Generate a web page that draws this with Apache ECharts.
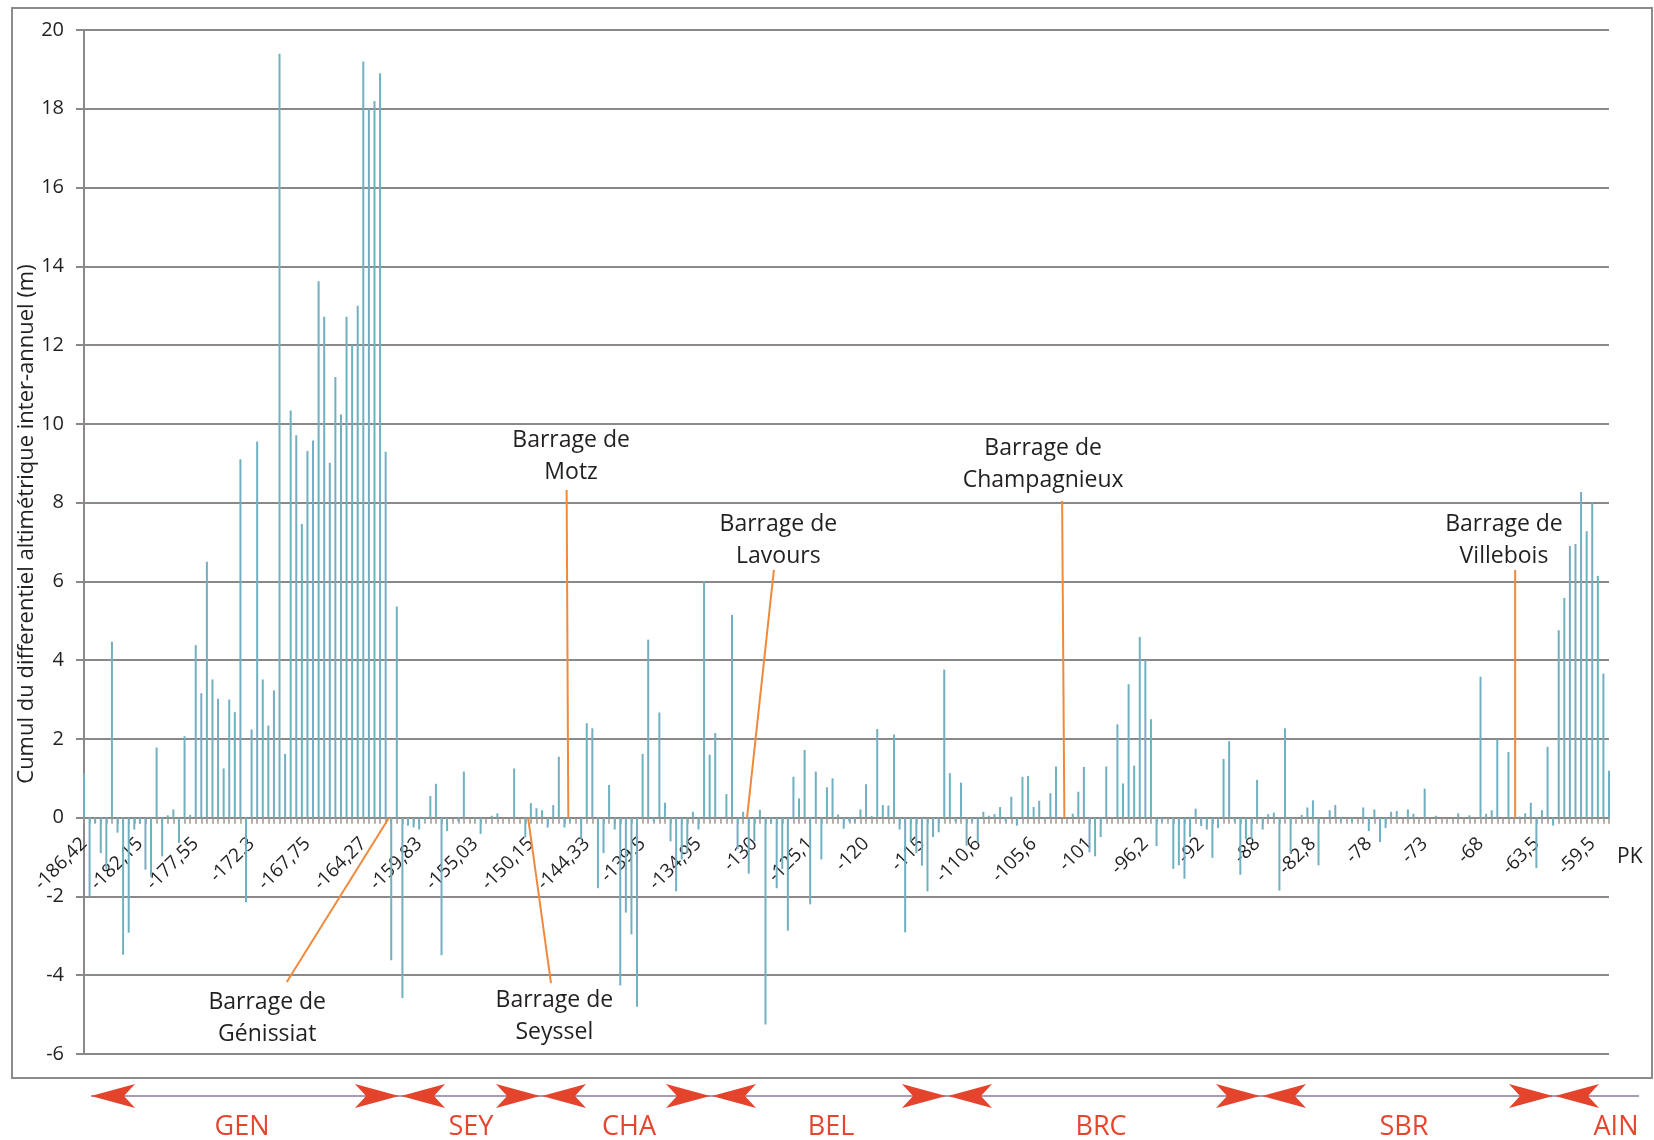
<!DOCTYPE html>
<html lang="fr">
<head>
<meta charset="UTF-8">
<title>Cumul du differentiel altimétrique inter-annuel</title>
<style>
  *{margin:0;padding:0;}
  body{background:#fff;}
  #chart{width:1654px;height:1140px;}
</style>
</head>
<body>
<div id="chart"></div>
<script src="https://cdn.jsdelivr.net/npm/echarts@6/dist/echarts.min.js"></script>
<script>
// PK labels, one every 10 profiles
var pkLabels = ['-186,42','-182,15','-177,55','-172,3','-167,75','-164,27','-159,83','-155,03','-150,15',
	'-144,33','-139,5','-134,95','-130','-125,1','-120','-115','-110,6','-105,6','-101','-96,2','-92',
	'-88','-82,8','-78','-73','-68','-63,5','-59,5'];

// cumul du differentiel (m), one value per profile, upstream -> downstream
var cumul = [
	1.12,-2.0,-0.13,-0.9,-1.3,4.47,-0.38,-3.48,-2.92,-0.3,
	-0.15,-1.32,-1.5,1.78,-0.98,0.06,0.21,-0.64,2.07,0.07,
	4.38,3.16,6.5,3.51,3.02,1.25,3.0,2.68,9.1,-2.15,
	2.24,9.55,3.51,2.34,3.23,19.4,1.62,10.34,9.71,7.46,
	9.31,9.58,13.62,12.72,9.01,11.19,10.24,12.72,12.0,13.0,
	19.2,18.0,18.2,18.9,9.29,-3.62,5.36,-4.58,-0.2,-0.25,
	-0.3,-0.05,0.55,0.86,-3.49,-0.34,0,-0.1,1.17,0,
	-0.05,-0.41,0,0.05,0.11,0,0,1.25,0,-0.5,
	0.37,0.24,0.19,-0.25,0.32,1.55,-0.25,-0.1,0,-0.55,
	2.4,2.27,-1.79,-0.9,0.83,-0.3,-4.26,-2.41,-2.96,-4.8,
	1.62,4.52,-0.1,2.67,0.38,-0.6,-1.87,-1.06,-0.9,0.15,
	-0.3,6.0,1.6,2.15,0,0.6,5.15,-0.8,0.15,-1.42,
	-0.6,0.2,-5.25,-0.15,-1.79,-1.3,-2.87,1.04,0.49,1.72,
	-2.2,1.17,-1.06,0.77,1.0,0.08,-0.28,-0.1,-0.12,0.21,
	0.85,0.04,2.25,0.32,0.31,2.11,-0.3,-2.91,-0.6,-0.9,
	-1.22,-1.87,-0.49,-0.37,3.76,1.13,-0.1,0.89,-0.71,-0.1,
	-0.64,0.15,0.05,0.09,0.27,-0.1,0.53,-0.2,1.04,1.06,
	0.27,0.43,-0.05,0.62,1.3,0,0,0.1,0.66,1.29,
	-0.88,-0.98,-0.49,1.3,0,2.37,0.87,3.39,1.32,4.59,
	4.0,2.5,-0.72,-0.1,0.02,-1.3,-1.21,-1.55,-0.49,0.23,
	-0.21,-0.3,-1.02,-0.26,1.49,1.94,-0.1,-1.45,-0.55,-0.55,
	0.96,-0.3,0.09,0.13,-1.85,2.27,-0.9,0,0.07,0.26,
	0.44,-1.21,0,0.19,0.32,-0.1,0,-0.1,0,0.26,
	-0.34,0.21,-0.62,-0.26,0.15,0.17,0,0.21,0.1,0,
	0.74,0,0.05,0,0,0,0.11,0,0.06,0,
	3.58,0.1,0.19,1.99,0,1.67,0,0.03,0.11,0.38,
	-1.28,0.19,1.8,-0.2,4.76,5.58,6.9,6.95,8.27,7.27,
	8.0,6.14,3.66,1.19
];

var damNames = ['Génissiat','Seyssel','Motz','Lavours','Champagnieux','Villebois'];
var sectors = ['GEN','SEY','CHA','BEL','BRC','SBR','AIN'];

// annotation geometry in axis units [profile index, m]
var damLayout = [
	{text:[32.8,-5.09], from:[36.3,-4.17], to:[54.6,0]},
	{text:[84.2,-5.04], from:[83.6,-4.2], to:[79.5,0]},
	{text:[87.2,9.16], from:[86.4,8.32], to:[86.7,0]},
	{text:[124.3,7.05], from:[123.5,6.29], to:[118.7,0]},
	{text:[171.7,8.98], from:[175.1,8.04], to:[175.5,0]},
	{text:[254.2,7.05], from:[256.2,6.29], to:[256.2,0]}
];

// bottom band (pixels)
var leftTips = [91,401,542,712,948,1262,1555];
var rightTips = [399,540,710,946,1260,1553];
var sectorX = [242,471,629,831,1101,1404,1616];

var profils = cumul.map(function(v,i){
	return i % 10 === 0 ? pkLabels[i/10] : 'p' + i;
});

var yMin = -6, yMax = 20;
var gridTop = 30, gridH = 1024;
// move the category axis up to the zero line
var zeroOffset = -gridH * (0 - yMin) / (yMax - yMin);

var gray = '#8c8888';
var txt = '#231f20';
var chart = echarts.init(document.getElementById('chart'));

var series = [{
	type:'bar',
	data:cumul,
	barWidth:2,
	clip:false,
	itemStyle:{color:'#70b0c0'},
	silent:true
}];
damLayout.forEach(function(d){
	series.push({
		type:'line',
		xAxisIndex:1,
		yAxisIndex:0,
		data:[d.from,d.to],
		symbol:'none',
		silent:true,
		z:5,
		lineStyle:{color:'#ef8a3c',width:2}
	});
});

chart.setOption({
	animation:false,
	grid:{left:84,top:gridTop,width:1525,height:gridH},
	xAxis:[{
		type:'category',
		data:profils,
		position:'bottom',
		offset:zeroOffset,
		boundaryGap:false,
		axisLine:{onZero:false,lineStyle:{color:gray,width:2}},
		axisTick:{show:true,interval:0,length:6,lineStyle:{color:'#a09590',width:1.5}},
		axisLabel:{
			interval:9,
			rotate:45,
			margin:23,
			fontFamily:'Open Sans',
			fontSize:19,
			color:txt,
			formatter:function(v){ return v.charAt(0) === 'p' ? '' : v; }
		},
		splitLine:{show:false}
	},{
		type:'value',
		min:0,
		max:cumul.length - 1,
		axisLine:{onZero:false},
		show:false
	}],
	yAxis:{
		type:'value',
		min:yMin,
		max:yMax,
		interval:2,
		axisLine:{show:true,onZero:false,lineStyle:{color:gray,width:2}},
		axisTick:{show:true,length:8,lineStyle:{color:gray,width:2}},
		axisLabel:{fontFamily:'Open Sans',fontSize:20,color:txt,margin:20},
		splitLine:{lineStyle:{color:gray,width:2}}
	},
	series:series
});

var g = [];
g.push({type:'rect',z:-1,shape:{x:12,y:8,width:1640,height:1070},style:{fill:'none',stroke:'#8c8c8c',lineWidth:2}});
g.push({type:'text',x:27,y:524,rotation:Math.PI/2,style:{
	text:'Cumul du differentiel altimétrique inter-annuel (m)',
	font:'22px "Open Sans"',fill:txt,align:'center',verticalAlign:'middle',textAlign:'center',textVerticalAlign:'middle'}});
g.push({type:'text',x:1617,y:857,style:{text:'PK',font:'21px "Open Sans"',fill:txt,
	align:'left',verticalAlign:'middle',textAlign:'left',textVerticalAlign:'middle'}});

damLayout.forEach(function(d,k){
	var p = chart.convertToPixel({xAxisIndex:1,yAxisIndex:0},d.text);
	g.push({type:'text',x:p[0],y:p[1],z:10,style:{
		text:'Barrage de\n' + damNames[k],
		font:'23px "Open Sans"',lineHeight:32,fill:txt,
		align:'center',verticalAlign:'middle',textAlign:'center',textVerticalAlign:'middle'}});
});

// bottom band with sectors
var by = 1096, L = 44, H = 24, N = 11, red = '#e4432c';
g.push({type:'line',shape:{x1:91,y1:by,x2:1639,y2:by},style:{stroke:'#a99cb6',lineWidth:2}});
leftTips.forEach(function(t){
	g.push({type:'polygon',z:2,shape:{points:[[t,by],[t+L,by-H/2],[t+L-N,by],[t+L,by+H/2]]},style:{fill:red}});
});
rightTips.forEach(function(t){
	g.push({type:'polygon',z:2,shape:{points:[[t,by],[t-L,by-H/2],[t-L+N,by],[t-L,by+H/2]]},style:{fill:red}});
});
sectors.forEach(function(s,k){
	g.push({type:'text',x:sectorX[k],y:1127,style:{text:s,
		font:'27px "Liberation Sans Narrow", "Open Sans"',fill:'#e4472f',
		align:'center',verticalAlign:'middle',textAlign:'center',textVerticalAlign:'middle'}});
});

chart.setOption({graphic:g});
</script>
</body>
</html>
